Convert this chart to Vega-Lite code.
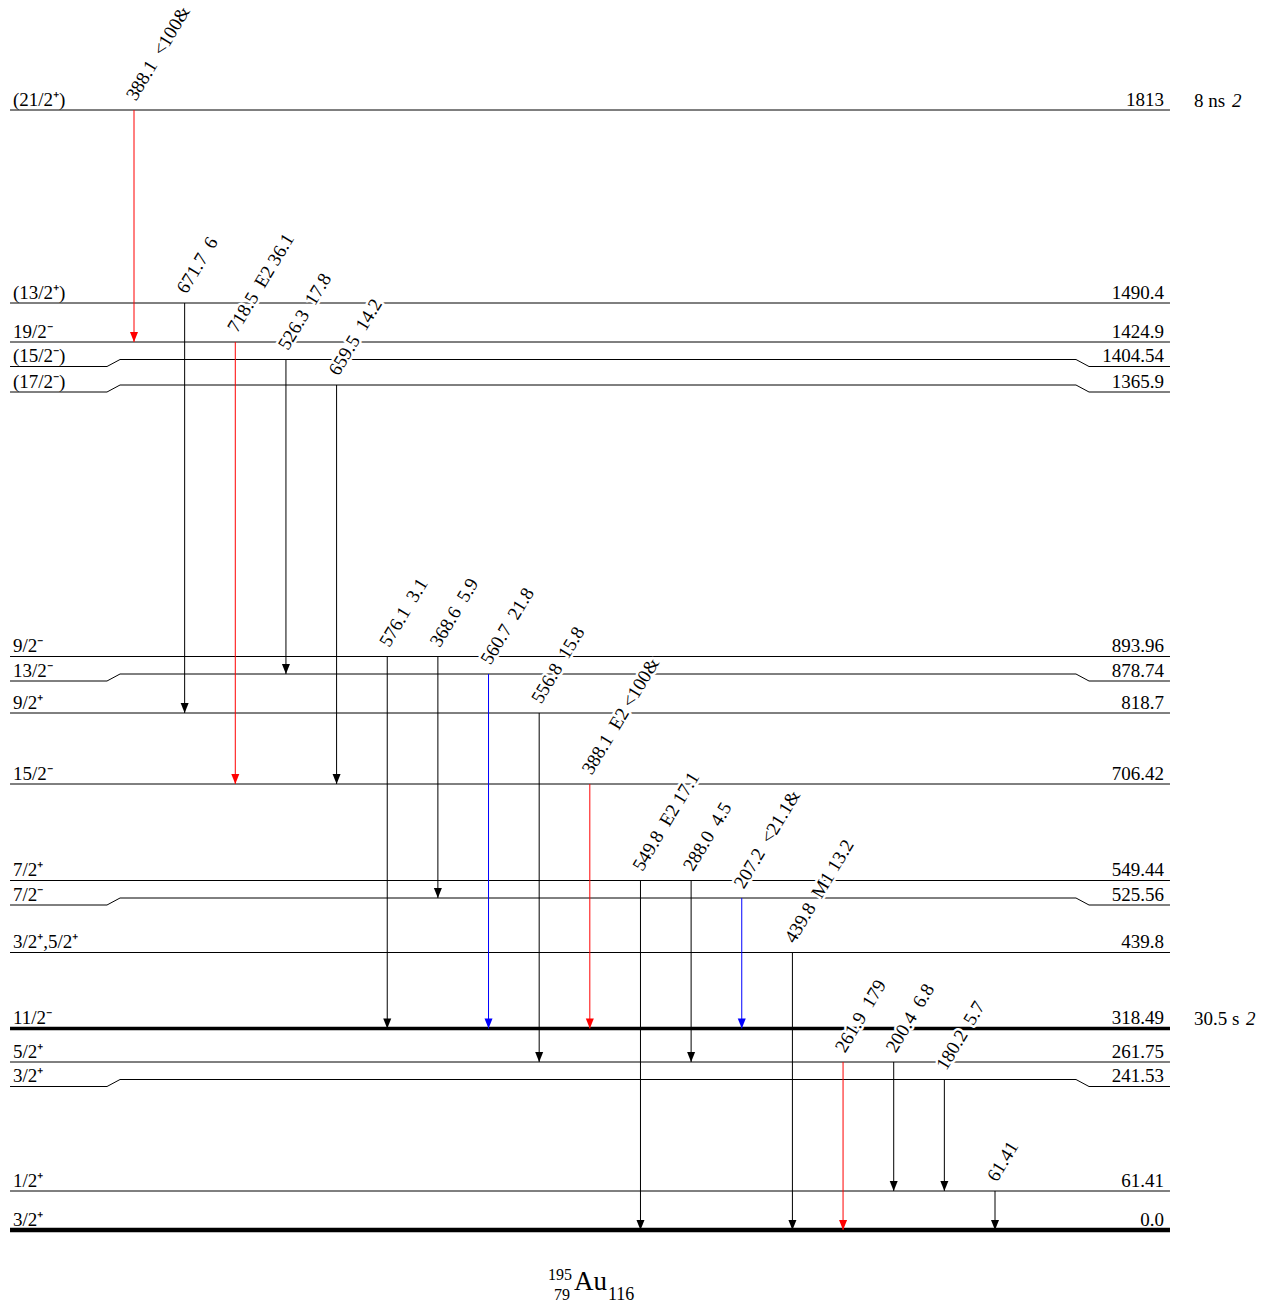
{
  "$schema": "https://vega.github.io/schema/vega-lite/v6.json",
  "width": 1261,
  "height": 1302,
  "autosize": "none",
  "padding": 0,
  "background": "white",
  "config": {"view": {"stroke": null}, "font": "Liberation Serif", "text": {"font": "Liberation Serif"}},
  "datasets": {
    "levels": [
      {"E": 1813, "Elabel": "1813", "Jpi": "(21/2⁺)", "T": "8 ns", "dT": "2"},
      {"E": 1490.4, "Elabel": "1490.4", "Jpi": "(13/2⁺)"},
      {"E": 1424.9, "Elabel": "1424.9", "Jpi": "19/2⁻"},
      {"E": 1404.54, "Elabel": "1404.54", "Jpi": "(15/2⁻)"},
      {"E": 1365.9, "Elabel": "1365.9", "Jpi": "(17/2⁻)"},
      {"E": 893.96, "Elabel": "893.96", "Jpi": "9/2⁻"},
      {"E": 878.74, "Elabel": "878.74", "Jpi": "13/2⁻"},
      {"E": 818.7, "Elabel": "818.7", "Jpi": "9/2⁺"},
      {"E": 706.42, "Elabel": "706.42", "Jpi": "15/2⁻"},
      {"E": 549.44, "Elabel": "549.44", "Jpi": "7/2⁺"},
      {"E": 525.56, "Elabel": "525.56", "Jpi": "7/2⁻"},
      {"E": 439.8, "Elabel": "439.8", "Jpi": "3/2⁺,5/2⁺"},
      {"E": 318.49, "Elabel": "318.49", "Jpi": "11/2⁻", "T": "30.5 s", "dT": "2"},
      {"E": 261.75, "Elabel": "261.75", "Jpi": "5/2⁺"},
      {"E": 241.53, "Elabel": "241.53", "Jpi": "3/2⁺"},
      {"E": 61.41, "Elabel": "61.41", "Jpi": "1/2⁺"},
      {"E": 0, "Elabel": "0.0", "Jpi": "3/2⁺"}
    ],
    "gammas": [
      {"col": 0, "Ei": 1813, "Ef": 1424.9, "label": "388.1\u00a0\u00a0<100&", "Icat": "strong"},
      {"col": 1, "Ei": 1490.4, "Ef": 818.7, "label": "671.7\u00a0\u00a06", "Icat": "weak"},
      {"col": 2, "Ei": 1424.9, "Ef": 706.42, "label": "718.5\u00a0\u00a0E2 36.1", "Icat": "strong"},
      {"col": 3, "Ei": 1404.54, "Ef": 878.74, "label": "526.3\u00a0\u00a017.8", "Icat": "weak"},
      {"col": 4, "Ei": 1365.9, "Ef": 706.42, "label": "659.5\u00a0\u00a014.2", "Icat": "weak"},
      {"col": 5, "Ei": 893.96, "Ef": 318.49, "label": "576.1\u00a0\u00a03.1", "Icat": "weak"},
      {"col": 6, "Ei": 893.96, "Ef": 525.56, "label": "368.6\u00a0\u00a05.9", "Icat": "weak"},
      {"col": 7, "Ei": 878.74, "Ef": 318.49, "label": "560.7\u00a0\u00a021.8", "Icat": "medium"},
      {"col": 8, "Ei": 818.7, "Ef": 261.75, "label": "556.8\u00a0\u00a015.8", "Icat": "weak"},
      {"col": 9, "Ei": 706.42, "Ef": 318.49, "label": "388.1\u00a0\u00a0E2 <100&", "Icat": "strong"},
      {"col": 10, "Ei": 549.44, "Ef": 0, "label": "549.8\u00a0\u00a0E2 17.1", "Icat": "weak"},
      {"col": 11, "Ei": 549.44, "Ef": 261.75, "label": "288.0\u00a0\u00a04.5", "Icat": "weak"},
      {"col": 12, "Ei": 525.56, "Ef": 318.49, "label": "207.2\u00a0\u00a0<21.1&", "Icat": "medium"},
      {"col": 13, "Ei": 439.8, "Ef": 0, "label": "439.8\u00a0\u00a0M1 13.2", "Icat": "weak"},
      {"col": 14, "Ei": 261.75, "Ef": 0, "label": "261.9\u00a0\u00a0179", "Icat": "strong"},
      {"col": 15, "Ei": 261.75, "Ef": 61.41, "label": "200.4\u00a0\u00a06.8", "Icat": "weak"},
      {"col": 16, "Ei": 241.53, "Ef": 61.41, "label": "180.2\u00a0\u00a05.7", "Icat": "weak"},
      {"col": 17, "Ei": 61.41, "Ef": 0, "label": "61.41", "Icat": "weak"}
    ],
    "nuclide": [{"A": "195", "Z": "79", "N": "116", "sym": "Au"}]
  },
  "layer": [
    {
      "data": {"name": "levels"},
      "transform": [{"filter": {"not": {"field": "E", "oneOf": [0, 318.49, 241.53, 525.56, 878.74, 1365.9, 1404.54]}}}],
      "mark": {"type": "rule", "color": "black", "strokeWidth": 1},
      "encoding": {
        "x": {"datum": -2.448, "type": "quantitative", "scale": {"domain": [0, 17], "range": [134, 995], "zero": false, "nice": false}, "axis": null},
        "x2": {"datum": 20.455},
        "y": {"field": "E", "type": "quantitative", "scale": {"domain": [0, 61.41, 241.53, 261.75, 318.49, 439.8, 525.56, 549.44, 706.42, 818.7, 878.74, 893.96, 1365.9, 1404.54, 1424.9, 1490.4, 1813], "range": [1230, 1191, 1079.5, 1062, 1028.5, 952.5, 898, 880.5, 784, 713, 674, 656.5, 385, 359.5, 342, 303, 110], "zero": false, "nice": false}, "axis": null}
      }
    },
    {
      "data": {"name": "levels"},
      "transform": [{"filter": {"field": "E", "equal": 318.49}}],
      "mark": {"type": "rule", "color": "black", "strokeWidth": 3.5},
      "encoding": {"x": {"datum": -2.448}, "x2": {"datum": 20.455}, "y": {"field": "E", "type": "quantitative"}}
    },
    {
      "data": {"name": "levels"},
      "transform": [{"filter": {"field": "E", "equal": 0}}],
      "mark": {"type": "rule", "color": "black", "strokeWidth": 4.5},
      "encoding": {"x": {"datum": -2.448}, "x2": {"datum": 20.455}, "y": {"field": "E", "type": "quantitative"}}
    },
    {
      "data": {"name": "levels"},
      "transform": [{"filter": {"field": "E", "oneOf": [241.53, 525.56, 878.74, 1365.9, 1404.54]}}],
      "mark": {"type": "rule", "color": "black", "strokeWidth": 1},
      "encoding": {"x": {"datum": -0.276}, "x2": {"datum": 18.599}, "y": {"field": "E", "type": "quantitative"}}
    },
    {
      "data": {"name": "levels"},
      "transform": [{"filter": {"field": "E", "oneOf": [241.53, 525.56, 878.74, 1365.9, 1404.54]}}],
      "mark": {"type": "rule", "color": "black", "strokeWidth": 1, "yOffset": 7, "y2Offset": 7},
      "encoding": {"x": {"datum": -2.448}, "x2": {"datum": -0.533}, "y": {"field": "E", "type": "quantitative"}, "y2": {"field": "E"}}
    },
    {
      "data": {"name": "levels"},
      "transform": [{"filter": {"field": "E", "oneOf": [241.53, 525.56, 878.74, 1365.9, 1404.54]}}],
      "mark": {"type": "rule", "color": "black", "strokeWidth": 1, "yOffset": 7, "y2Offset": 7},
      "encoding": {"x": {"datum": 18.856}, "x2": {"datum": 20.455}, "y": {"field": "E", "type": "quantitative"}, "y2": {"field": "E"}}
    },
    {
      "data": {"name": "levels"},
      "transform": [{"filter": {"field": "E", "oneOf": [241.53, 525.56, 878.74, 1365.9, 1404.54]}}],
      "mark": {"type": "rule", "color": "black", "strokeWidth": 1, "yOffset": 7, "y2Offset": 0},
      "encoding": {"x": {"datum": -0.533}, "x2": {"datum": -0.276}, "y": {"field": "E", "type": "quantitative"}, "y2": {"field": "E"}}
    },
    {
      "data": {"name": "levels"},
      "transform": [{"filter": {"field": "E", "oneOf": [241.53, 525.56, 878.74, 1365.9, 1404.54]}}],
      "mark": {"type": "rule", "color": "black", "strokeWidth": 1, "yOffset": 0, "y2Offset": 7},
      "encoding": {"x": {"datum": 18.599}, "x2": {"datum": 18.856}, "y": {"field": "E", "type": "quantitative"}, "y2": {"field": "E"}}
    },
    {
      "data": {"name": "gammas"},
      "mark": {"type": "text", "angle": -59, "align": "left", "baseline": "middle", "dx": 8, "dy": -8.5, "fontSize": 19, "font": "Liberation Serif", "fill": "white", "stroke": "white", "strokeWidth": 5, "strokeJoin": "round"},
      "encoding": {"x": {"field": "col", "type": "quantitative"}, "y": {"field": "Ei", "type": "quantitative"}, "text": {"field": "label", "type": "nominal"}}
    },
    {
      "data": {"name": "gammas"},
      "mark": {"type": "rule", "strokeWidth": 1},
      "encoding": {
        "x": {"field": "col", "type": "quantitative"},
        "y": {"field": "Ei", "type": "quantitative"},
        "y2": {"field": "Ef"},
        "color": {"field": "Icat", "type": "nominal", "scale": {"domain": ["strong", "medium", "weak"], "range": ["#ff0000", "#0000ff", "#000000"]}, "legend": null}
      }
    },
    {
      "data": {"name": "gammas"},
      "mark": {"type": "point", "shape": "M-0.8,-1L0.8,-1L0,1Z", "size": 100, "filled": true, "opacity": 1, "yOffset": -5, "strokeWidth": 0},
      "encoding": {
        "x": {"field": "col", "type": "quantitative"},
        "y": {"field": "Ef", "type": "quantitative"},
        "color": {"field": "Icat", "type": "nominal", "legend": null}
      }
    },
    {
      "data": {"name": "gammas"},
      "mark": {"type": "text", "angle": -59, "align": "left", "baseline": "middle", "dx": 8, "dy": -8.5, "fontSize": 19, "font": "Liberation Serif", "fill": "black"},
      "encoding": {"x": {"field": "col", "type": "quantitative"}, "y": {"field": "Ei", "type": "quantitative"}, "text": {"field": "label", "type": "nominal"}}
    },
    {
      "data": {"name": "levels"},
      "transform": [{"filter": {"not": {"field": "E", "oneOf": [241.53, 525.56, 878.74, 1365.9, 1404.54]}}}],
      "mark": {"type": "text", "align": "left", "baseline": "alphabetic", "dy": -4.5, "fontSize": 19, "font": "Liberation Serif", "fill": "black"},
      "encoding": {"x": {"datum": -2.389}, "y": {"field": "E", "type": "quantitative"}, "text": {"field": "Jpi", "type": "nominal"}}
    },
    {
      "data": {"name": "levels"},
      "transform": [{"filter": {"field": "E", "oneOf": [241.53, 525.56, 878.74, 1365.9, 1404.54]}}],
      "mark": {"type": "text", "align": "left", "baseline": "alphabetic", "dy": 2.5, "fontSize": 19, "font": "Liberation Serif", "fill": "black"},
      "encoding": {"x": {"datum": -2.389}, "y": {"field": "E", "type": "quantitative"}, "text": {"field": "Jpi", "type": "nominal"}}
    },
    {
      "data": {"name": "levels"},
      "transform": [{"filter": {"not": {"field": "E", "oneOf": [241.53, 525.56, 878.74, 1365.9, 1404.54]}}}],
      "mark": {"type": "text", "align": "right", "baseline": "alphabetic", "dy": -4.5, "fontSize": 19, "font": "Liberation Serif", "fill": "black"},
      "encoding": {"x": {"datum": 20.337}, "y": {"field": "E", "type": "quantitative"}, "text": {"field": "Elabel", "type": "nominal"}}
    },
    {
      "data": {"name": "levels"},
      "transform": [{"filter": {"field": "E", "oneOf": [241.53, 525.56, 878.74, 1365.9, 1404.54]}}],
      "mark": {"type": "text", "align": "right", "baseline": "alphabetic", "dy": 2.5, "fontSize": 19, "font": "Liberation Serif", "fill": "black"},
      "encoding": {"x": {"datum": 20.337}, "y": {"field": "E", "type": "quantitative"}, "text": {"field": "Elabel", "type": "nominal"}}
    },
    {
      "data": {"name": "levels"},
      "transform": [{"filter": {"field": "E", "oneOf": [1813, 318.49]}}],
      "mark": {"type": "text", "align": "left", "baseline": "alphabetic", "dy": -3.5, "fontSize": 19, "font": "Liberation Serif", "fill": "black"},
      "encoding": {"x": {"datum": 20.929}, "y": {"field": "E", "type": "quantitative"}, "text": {"field": "T", "type": "nominal"}}
    },
    {
      "data": {"name": "levels"},
      "transform": [{"filter": {"field": "E", "equal": 1813}}],
      "mark": {"type": "text", "align": "left", "baseline": "alphabetic", "dx": 38, "dy": -3.5, "fontSize": 19, "fontStyle": "italic", "font": "Liberation Serif", "fill": "black"},
      "encoding": {"x": {"datum": 20.929}, "y": {"field": "E", "type": "quantitative"}, "text": {"field": "dT", "type": "nominal"}}
    },
    {
      "data": {"name": "levels"},
      "transform": [{"filter": {"field": "E", "equal": 318.49}}],
      "mark": {"type": "text", "align": "left", "baseline": "alphabetic", "dx": 52, "dy": -3.5, "fontSize": 19, "fontStyle": "italic", "font": "Liberation Serif", "fill": "black"},
      "encoding": {"x": {"datum": 20.929}, "y": {"field": "E", "type": "quantitative"}, "text": {"field": "dT", "type": "nominal"}}
    },
    {
      "data": {"name": "nuclide"},
      "mark": {"type": "text", "align": "right", "baseline": "alphabetic", "dx": -2, "dy": 49.5, "fontSize": 16, "font": "Liberation Serif", "fill": "black"},
      "encoding": {"x": {"datum": 8.688}, "y": {"datum": 0}, "text": {"field": "A", "type": "nominal"}}
    },
    {
      "data": {"name": "nuclide"},
      "mark": {"type": "text", "align": "right", "baseline": "alphabetic", "dx": -4, "dy": 69.5, "fontSize": 16, "font": "Liberation Serif", "fill": "black"},
      "encoding": {"x": {"datum": 8.688}, "y": {"datum": 0}, "text": {"field": "Z", "type": "nominal"}}
    },
    {
      "data": {"name": "nuclide"},
      "mark": {"type": "text", "align": "left", "baseline": "alphabetic", "dx": 0, "dy": 60, "fontSize": 27, "font": "Liberation Serif", "fill": "black"},
      "encoding": {"x": {"datum": 8.688}, "y": {"datum": 0}, "text": {"field": "sym", "type": "nominal"}}
    },
    {
      "data": {"name": "nuclide"},
      "mark": {"type": "text", "align": "left", "baseline": "alphabetic", "dx": 34, "dy": 69.5, "fontSize": 18, "font": "Liberation Serif", "fill": "black"},
      "encoding": {"x": {"datum": 8.688}, "y": {"datum": 0}, "text": {"field": "N", "type": "nominal"}}
    }
  ]
}
